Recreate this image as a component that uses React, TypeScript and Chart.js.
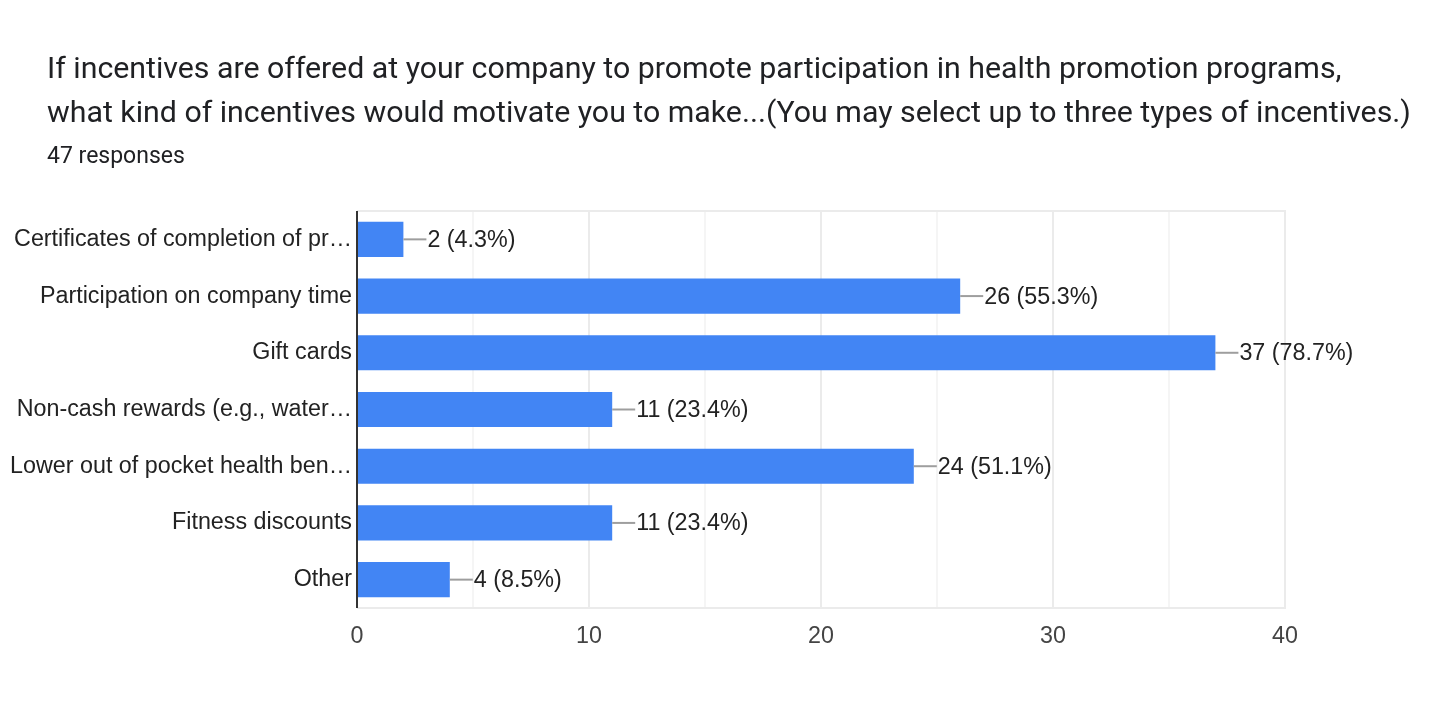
import React, { useEffect, useRef } from "react";
import { Chart, registerables } from "chart.js";

Chart.register(...registerables);

const titleLines = [
  "If incentives are offered at your company to promote participation in health promotion programs,",
  "what kind of incentives would motivate you to make...(You may select up to three types of incentives.)",
];
const subtitle = "47 responses";
const categories = [
  "Certificates of completion of pr…",
  "Participation on company time",
  "Gift cards",
  "Non-cash rewards (e.g., water…",
  "Lower out of pocket health ben…",
  "Fitness discounts",
  "Other",
];
const counts = [2, 26, 37, 11, 24, 11, 4];
const percents = ["4.3%", "55.3%", "78.7%", "23.4%", "51.1%", "23.4%", "8.5%"];
const xMin = 0;
const xMax = 40;

const LABEL_FONT = "'Liberation Sans', Arial, sans-serif";
const LABEL_SIZE = 23.3;

const titlePlugin = {
  id: "customTitle",
  afterDraw(chart: any) {
    const ctx = chart.ctx;
    ctx.save();
    ctx.textAlign = "left";
    ctx.textBaseline = "alphabetic";
    ctx.fillStyle = "#202124";
    ctx.font = "30.3px Roboto";
    ctx.fillText(titleLines[0], 47, 78);
    ctx.fillText(titleLines[1], 47, 122);
    ctx.font = "23px Roboto";
    ctx.fillText(subtitle, 47, 163);
    ctx.restore();
  },
};

const borderPlugin = {
  id: "areaBorder",
  beforeDatasetsDraw(chart: any) {
    const { ctx, chartArea } = chart;
    ctx.save();
    ctx.strokeStyle = "#ebebeb";
    ctx.lineWidth = 2;
    ctx.beginPath();
    ctx.moveTo(chartArea.left, chartArea.top);
    ctx.lineTo(chartArea.right, chartArea.top);
    ctx.lineTo(chartArea.right, chartArea.bottom);
    ctx.lineTo(chartArea.left, chartArea.bottom);
    ctx.stroke();
    ctx.strokeStyle = "#333333";
    ctx.lineWidth = 2;
    ctx.beginPath();
    ctx.moveTo(chartArea.left, chartArea.top);
    ctx.lineTo(chartArea.left, chartArea.bottom);
    ctx.stroke();
    ctx.restore();
  },
};

const valueLabelPlugin = {
  id: "valueLabels",
  afterDatasetsDraw(chart: any) {
    const ctx = chart.ctx;
    const meta = chart.getDatasetMeta(0);
    ctx.save();
    ctx.font = `${LABEL_SIZE}px ${LABEL_FONT}`;
    ctx.textAlign = "left";
    ctx.textBaseline = "middle";
    meta.data.forEach((bar: any, i: number) => {
      const x = bar.x;
      const y = bar.y;
      ctx.strokeStyle = "#9e9e9e";
      ctx.lineWidth = 2;
      ctx.beginPath();
      ctx.moveTo(x, y);
      ctx.lineTo(x + 23, y);
      ctx.stroke();
      ctx.fillStyle = "#222222";
      ctx.fillText(`${counts[i]} (${percents[i]})`, x + 24, y + 1);
    });
    ctx.restore();
  },
};

export default function App() {
  const ref = useRef<HTMLCanvasElement>(null);
  useEffect(() => {
    if (!ref.current) return;
    const chart = new Chart(ref.current, {
      type: "bar",
      data: {
        labels: categories,
        datasets: [
          {
            data: counts,
            backgroundColor: "#4285f4",
            borderWidth: 0,
            barPercentage: 0.62,
            categoryPercentage: 1,
          },
        ],
      },
      options: {
        indexAxis: "y",
        animation: false,
        responsive: false,
        maintainAspectRatio: false,
        layout: { padding: { top: 211, right: 144, left: 0, bottom: 0 } },
        plugins: {
          legend: { display: false },
          tooltip: { enabled: false },
          title: { display: false },
        },
        scales: {
          x: {
            min: xMin,
            max: xMax,
            ticks: {
              stepSize: 5,
              padding: 15,
              color: "#444444",
              font: { family: LABEL_FONT, size: LABEL_SIZE },
              callback: (v: any) => (Number(v) % 10 === 0 ? String(v) : ""),
              maxRotation: 0,
              autoSkip: false,
            },
            grid: {
              drawTicks: false,
              color: (c: any) =>
                c.tick && c.tick.value % 10 === 0 ? "#ebebeb" : "#f5f5f5",
              lineWidth: 2,
            },
            border: { display: false },
            afterFit: (s: any) => {
              s.height = 118;
            },
          },
          y: {
            ticks: {
              padding: 5,
              color: "#222222",
              font: { family: LABEL_FONT, size: LABEL_SIZE },
              autoSkip: false,
            },
            grid: { display: false, drawTicks: false },
            border: { display: false },
            afterFit: (s: any) => {
              s.width = 357;
            },
          },
        },
      },
      plugins: [borderPlugin, valueLabelPlugin, titlePlugin],
    });
    return () => chart.destroy();
  }, []);
  return (
    <div style={{ position: "fixed", left: 0, top: 0, width: 1429, height: 726, background: "#fff" }}>
      <canvas ref={ref} width={1429} height={726} style={{ display: "block" }} />
    </div>
  );
}
